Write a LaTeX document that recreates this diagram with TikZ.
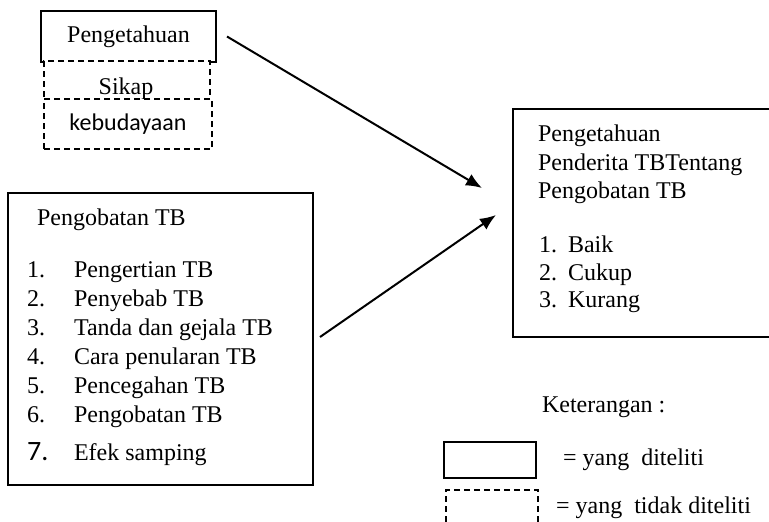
\documentclass[tikz,border=0pt]{standalone}
\usepackage{fontspec}
\setmainfont{Liberation Serif}
\newfontfamily\carlito{Carlito}
\usepackage{tikz}
\usetikzlibrary{arrows.meta,positioning,calc}

\begin{document}
\begin{tikzpicture}[x=0.5pt,y=-0.5pt,font=\fontsize{12}{14}\selectfont,
  kotak/.style={draw,line width=1pt,inner sep=0pt},
  putus/.style={draw,line width=1pt,dash pattern=on 3pt off 2pt,fill=white,inner sep=0pt},
  panah/.style={line width=1pt,-{Latex[length=8pt,width=6.5pt]}}]
\useasboundingbox (0,0) rectangle (769,521);
% variabel atas
\node[kotak,minimum width=87.5pt,minimum height=25.5pt] (tahu) at (128.5,36.5) {Pengetahuan};
\node[putus,minimum width=83pt,minimum height=19pt] (sikap) at (127,80) {};
\node[anchor=base] (sikapteks) at (126,94) {Sikap};
\node[putus,minimum width=84pt,minimum height=25pt] (budaya) at (128,124) {\carlito kebudayaan};
% materi pengobatan
\node[kotak,minimum width=152.5pt,minimum height=146pt] (materi) at (160.5,339) {};
\node[anchor=base west] (judul) at (30,225) {Pengobatan TB};
\foreach \no/\isi/\y in {1/Pengertian TB/277,2/Penyebab TB/306,3/Tanda dan gejala TB/335,
  4/Cara penularan TB/364,5/Pencegahan TB/393,6/Pengobatan TB/422}{
  \node[anchor=base west] (no\no) at (20,\y) {\no.};
  \node[anchor=base west] (isi\no) at (67,\y) {\isi};
}
\node[anchor=base west] (no7) at (20,460) {\carlito\fontsize{14}{16}\selectfont 7.};
\node[anchor=base west] (isi7) at (67,460) {Efek samping};
% hasil (sisi kanan keluar gambar)
\node[kotak,minimum width=132pt,minimum height=114pt] (hasil) at (645,223) {};
\node[anchor=base west] (h1) at (531,141) {Pengetahuan};
\node[anchor=base west] (h2) at (531,170) {Penderita TBTentang};
\node[anchor=base west] (h3) at (531,198) {Pengobatan TB};
\foreach \no/\isi/\y in {1/Baik/252,2/Cukup/280,3/Kurang/307}{
  \node[anchor=base west] (k\no) at (532,\y) {\no.};
  \node[anchor=base west] (kat\no) at (561,\y) {\isi};
}
% panah
\draw[panah] ([xshift=5pt]tahu.east) -- ([xshift=-15pt,yshift=17.5pt]hasil.west);
\draw[panah] ([xshift=3pt,yshift=1pt]materi.east) -- ([xshift=-8pt,yshift=4pt]hasil.west);
% keterangan
\node[anchor=base west] (ket) at (535,412) {Keterangan :};
\node[kotak,minimum width=46pt,minimum height=18pt] (lsolid) at (490,460) {};
\node[anchor=base west] (tsolid) at (556,465) {= yang~ diteliti};
\node[putus,minimum width=46pt,minimum height=20pt] (lputus) at (492,510) {};
\node[anchor=base west] (tputus) at (549,513) {= yang~ tidak diteliti};
\end{tikzpicture}
\end{document}
